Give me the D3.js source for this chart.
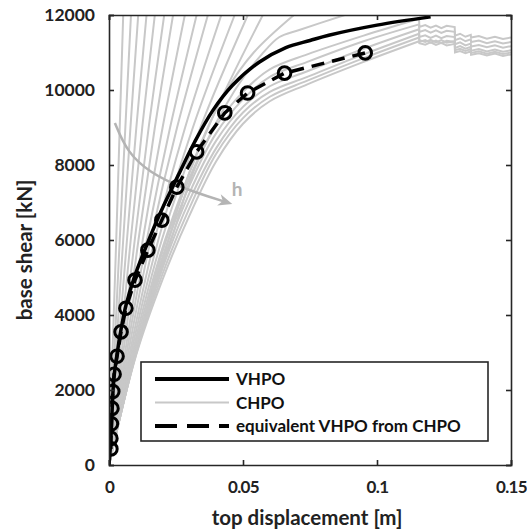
<!DOCTYPE html>
<html>
<head>
<meta charset="utf-8">
<script src="https://cdn.jsdelivr.net/npm/d3@7"></script>
<style>
  body { margin: 0; background: #fff; }
  text { font-family: Lato, "Open Sans", sans-serif; font-weight: 700; }
</style>
</head>
<body>
<div id="chart"></div>
<script>
// values
const xTicks = [0, 0.05, 0.1, 0.15]
const xTickLabels = ["0", "0.05", "0.1", "0.15"]
const yTicks = [0, 2000, 4000, 6000, 8000, 10000, 12000]

// VHPO (black solid)
const vhpo = [[0,0],[0.0007,700],[0.0012,1500],[0.0018,2300],[0.003,2950],[0.0045,3620],[0.0063,4250],
  [0.0095,5020],[0.014,5850],[0.0185,6620],[0.0216,7100],[0.026,7750],[0.032,8620],[0.0387,9450],
  [0.046,10120],[0.056,10740],[0.066,11130],[0.075,11320],[0.082,11460],[0.1,11730],[0.12,11950]]

// equivalent VHPO from CHPO (dashed + circles)
const equiv = [[0.0007,430],[0.0007,710],[0.0009,1100],[0.0011,1510],[0.0014,1960],[0.0019,2420],
  [0.003,2900],[0.0045,3550],[0.0063,4180],[0.0097,4930],[0.0145,5730],[0.0197,6530],[0.0253,7410],
  [0.0327,8350],[0.0432,9390],[0.0517,9920],[0.0655,10450],[0.0956,10990]]

// CHPO curves (grey); the steep ones leave through the top of the axes
const chpoCurves = [
  [[0,0],[0.0013,3000],[0.0027,6000],[0.0040,9000],[0.0053,12000]],
  [[0,0],[0.0020,3000],[0.0040,6000],[0.0061,9000],[0.0082,12000]],
  [[0,0],[0.0026,3000],[0.0053,6000],[0.0080,9000],[0.0109,12000]],
  [[0,0],[0.0033,3000],[0.0067,6000],[0.0102,9000],[0.0140,12000]],
  [[0,0],[0.0040,3000],[0.0081,6000],[0.0124,9000],[0.0171,12000]],
  [[0,0],[0.0047,3000],[0.0096,6000],[0.0148,9000],[0.0206,12000]],
  [[0,0],[0.0053,3000],[0.0110,6000],[0.0171,9000],[0.0239,12000]],
  [[0,0],[0.0060,3000],[0.0126,6000],[0.0200,9000],[0.0283,12000]],
  [[0,0],[0.0066,3000],[0.0141,6000],[0.0228,9000],[0.0327,12000]],
  [[0,0],[0.0072,3000],[0.0155,6000],[0.0254,9000],[0.0369,12000]],
  [[0,0],[0.0078,3000],[0.0170,6000],[0.0284,9000],[0.0419,12000]],
  [[0,0],[0.0083,3000],[0.0184,6000],[0.0313,9000],[0.0469,12000]],
  [[0,0],[0.0088,3000],[0.0197,6000],[0.0341,9000],[0.0518,12000]],
  [[0,0],[0.0092,3000],[0.0209,6000],[0.0370,9000],[0.0574,12000]],
  [[0,0],[0.0096,3000],[0.0222,6000],[0.031,8000],[0.044,10000],[0.054,11000],[0.069,12000]],
  [[0,0],[0.0099,3000],[0.0232,6000],[0.0325,8000],[0.047,10000],[0.057,10950],[0.0636,11413],[0.071,11600],[0.088,12000]],
  [[0,0],[0.01,3050],[0.02,5700],[0.03,7650],[0.04,9050],[0.05,9950],[0.06,10550],[0.074,10950],[0.095,11450],[0.1157,11900]],
  [[0,0],[0.01,3000],[0.02,5550],[0.03,7450],[0.04,8850],[0.05,9750],[0.06,10350],[0.074,10750],[0.095,11300],[0.1157,11750]],
  [[0,0],[0.01,2980],[0.02,5400],[0.03,7250],[0.04,8650],[0.05,9550],[0.06,10100],[0.074,10500],[0.095,11100],[0.1157,11620]],
  [[0,0],[0.01,2960],[0.02,5250],[0.03,7050],[0.04,8450],[0.05,9400],[0.06,9950],[0.074,10350],[0.095,10950],[0.1157,11500]],
  [[0,0],[0.01,2930],[0.02,5100],[0.03,6850],[0.04,8300],[0.05,9250],[0.06,9820],[0.074,10250],[0.095,10850],[0.1157,11400]],
  [[0,0],[0.01,2900],[0.02,4950],[0.03,6650],[0.04,8100],[0.05,9100],[0.06,9700],[0.074,10150],[0.095,10750],[0.1157,11300]]
]

// jagged tails after 0.1157 for the last six CHPO curves
const tailX = [0.1158,0.118,0.120,0.122,0.124,0.126,0.129,0.1291,0.131,0.133,0.135,0.1351,0.138,0.141,0.144,0.147,0.15]
const tailY = [
  [11680,11730,11660,11720,11650,11710,11680,11450,11500,11420,11470,11400,11440,11370,11420,11360,11400],
  [11547,11600,11530,11590,11520,11580,11550,11330,11380,11300,11350,11280,11320,11250,11300,11240,11280],
  [11413,11460,11390,11450,11380,11440,11410,11220,11270,11190,11240,11160,11200,11140,11190,11130,11170],
  [11280,11330,11260,11320,11250,11310,11280,11120,11170,11100,11150,11050,11090,11030,11080,11020,11060],
  [11330,11280,11340,11270,11330,11260,11300,11060,11100,11040,11090,10990,11030,10970,11020,10960,11000],
  [11250,11210,11270,11200,11260,11190,11230,11000,11040,10980,11030,10940,10980,10920,10970,10910,10950]
]

// grey arrow showing increasing h
const hArrow = [[0.0022,9120],[0.0067,8347],[0.0153,7787],[0.0275,7387],[0.0376,7147],[0.0428,7030]]
const hLabel = {x: 0.0458, y: 7180, text: "h"}

const legendItems = ["VHPO", "CHPO", "equivalent VHPO from CHPO"]

const W = 527, H = 531
const x = d3.scaleLinear().domain([0, 0.15]).range([109, 511])
const y = d3.scaleLinear().domain([0, 12000]).range([465, 15])
const grey = "#c8c8c8"

const svg = d3.select("#chart").append("svg")
  .attr("width", W).attr("height", H)

svg.append("clipPath").attr("id", "clip")
  .append("rect")
  .attr("x", x(0)).attr("y", y(12000))
  .attr("width", x(0.15) - x(0)).attr("height", y(0) - y(12000))

const plot = svg.append("g").attr("clip-path", "url(#clip)")

const smooth = d3.line().x(d => x(d[0])).y(d => y(d[1])).curve(d3.curveCatmullRom.alpha(0.5))
const straight = d3.line().x(d => x(d[0])).y(d => y(d[1]))

// CHPO
chpoCurves.forEach((c, i) => {
  plot.append("path")
    .datum(c)
    .attr("fill", "none")
    .attr("stroke", grey)
    .attr("stroke-width", 2)
    .attr("d", smooth)
  const t = i - (chpoCurves.length - tailY.length)
  if (t >= 0) {
    const tail = [c[c.length - 1]].concat(tailX.map((tx, k) => [tx, tailY[t][k]]))
    plot.append("path")
      .datum(tail)
      .attr("fill", "none")
      .attr("stroke", grey)
      .attr("stroke-width", 2)
      .attr("d", straight)
  }
})

// h arrow
const arrowColor = "#b4b4b4"
plot.append("path")
  .datum(hArrow)
  .attr("fill", "none")
  .attr("stroke", arrowColor)
  .attr("stroke-width", 2.5)
  .attr("d", d3.line().x(d => x(d[0])).y(d => y(d[1])).curve(d3.curveBasis))
{
  const a = hArrow[hArrow.length - 2], b = hArrow[hArrow.length - 1]
  const ang = Math.atan2(y(b[1]) - y(a[1]), x(b[0]) - x(a[0]))
  const tipX = x(b[0]) + 9 * Math.cos(ang), tipY = y(b[1]) + 9 * Math.sin(ang)
  const L = 14, Wd = 6
  const bx = tipX - L * Math.cos(ang), by = tipY - L * Math.sin(ang)
  const pts = [[tipX, tipY],
    [bx + Wd * Math.sin(ang), by - Wd * Math.cos(ang)],
    [bx + 4 * Math.cos(ang), by + 4 * Math.sin(ang)],
    [bx - Wd * Math.sin(ang), by + Wd * Math.cos(ang)]]
  plot.append("path")
    .attr("d", "M" + pts.map(p => p.join(",")).join("L") + "Z")
    .attr("fill", arrowColor)
}
svg.append("text")
  .attr("x", x(hLabel.x)).attr("y", y(hLabel.y))
  .attr("fill", arrowColor)
  .style("font-size", "19px")
  .text(hLabel.text)

// VHPO
plot.append("path")
  .datum(vhpo)
  .attr("fill", "none")
  .attr("stroke", "#000")
  .attr("stroke-width", 3.5)
  .attr("d", smooth)

// equivalent
plot.append("path")
  .datum(equiv)
  .attr("fill", "none")
  .attr("stroke", "#000")
  .attr("stroke-width", 3.5)
  .attr("stroke-dasharray", "13,8")
  .attr("d", straight)

plot.selectAll(".pt")
  .data(equiv)
  .enter().append("circle")
  .attr("class", "pt")
  .attr("cx", d => x(d[0]))
  .attr("cy", d => y(d[1]))
  .attr("r", 6.3)
  .attr("fill", "none")
  .attr("stroke", "#000")
  .attr("stroke-width", 3)

// axes (MATLAB style box, ticks inside)
const axisColor = "#262626"
const gx = svg.append("g")
  .attr("transform", `translate(0,${y(0)})`)
  .call(d3.axisBottom(x).tickValues(xTicks).tickFormat((d, i) => xTickLabels[i]).tickSize(-5).tickPadding(16))
const gxTop = svg.append("g")
  .attr("transform", `translate(0,${y(12000)})`)
  .call(d3.axisTop(x).tickValues(xTicks).tickFormat("").tickSize(-5))
const gy = svg.append("g")
  .attr("transform", `translate(${x(0)},0)`)
  .call(d3.axisLeft(y).tickValues(yTicks).tickFormat(d3.format("d")).tickSize(-5).tickPadding(14))
const gyRight = svg.append("g")
  .attr("transform", `translate(${x(0.15)},0)`)
  .call(d3.axisRight(y).tickValues(yTicks).tickFormat("").tickSize(-5))

;[gx, gxTop, gy, gyRight].forEach(g => {
  g.select(".domain").attr("stroke", axisColor).attr("stroke-width", 1.6)
  g.selectAll(".tick line").attr("stroke", axisColor).attr("stroke-width", 1.6)
  g.selectAll(".tick text").attr("fill", "#222").style("font-size", "17.5px")
})
gx.selectAll(".tick text").attr("dy", "0.71em")
  .style("font-size", "17px").style("letter-spacing", "-0.6px")

svg.append("text")
  .attr("x", (x(0) + x(0.15)) / 2 - 3)
  .attr("y", 525)
  .attr("text-anchor", "middle")
  .attr("fill", "#222")
  .style("font-size", "20.5px")
  .text("top displacement [m]")

svg.append("text")
  .attr("transform", `translate(32,${(y(0) + y(12000)) / 2 + 10}) rotate(-90)`)
  .attr("text-anchor", "middle")
  .attr("fill", "#222")
  .style("font-size", "20.5px")
  .text("base shear [kN]")

// legend
const lg = svg.append("g")
lg.append("rect")
  .attr("x", 141).attr("y", 362).attr("width", 347).attr("height", 79)
  .attr("fill", "#fff").attr("stroke", axisColor).attr("stroke-width", 1.6)
const styles = [
  {stroke: "#000", w: 4, dash: null},
  {stroke: grey, w: 2, dash: null},
  {stroke: "#000", w: 4, dash: "22,10"}
]
legendItems.forEach((name, i) => {
  const ly = 379 + i * 23.5
  lg.append("line")
    .attr("x1", 155).attr("x2", 229).attr("y1", ly).attr("y2", ly)
    .attr("stroke", styles[i].stroke).attr("stroke-width", styles[i].w)
    .attr("stroke-dasharray", styles[i].dash)
  lg.append("text")
    .attr("x", 236).attr("y", ly).attr("dy", "0.36em")
    .attr("fill", "#111")
    .style("font-size", "17px")
    .text(name)
})
</script>
</body>
</html>
